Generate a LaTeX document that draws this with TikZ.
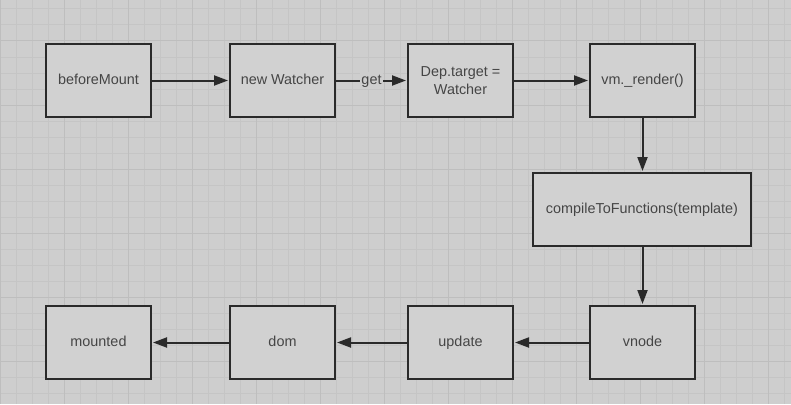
\documentclass[tikz,border=0pt]{standalone}
\usepackage{fontspec}
\setmainfont{Liberation Sans}
\usetikzlibrary{arrows.meta}
\definecolor{bgc}{HTML}{CECECE}
\definecolor{minorc}{HTML}{C5C5C5}
\definecolor{majorc}{HTML}{BEBEBE}
\definecolor{boxfill}{HTML}{D1D1D1}
\definecolor{edgec}{HTML}{2A2A2A}
\definecolor{txtc}{HTML}{454545}
\begin{document}
\begin{tikzpicture}[x=1pt,y=-1pt,
  stepbox/.style={draw=edgec, line width=2pt, fill=boxfill, minimum width=105pt, minimum height=73pt,
    inner sep=2pt, text=txtc, font=\fontsize{14.4}{17.5}\selectfont, align=center},
  oneline/.style={text height=10.5pt, text depth=3pt},
  flow/.style={draw=edgec, line width=2pt, -{Triangle[length=14pt,width=10pt]}, shorten >=1pt},
  lbl/.style={fill=bgc, inner sep=1.5pt, text=txtc, font=\fontsize{14.4}{17.5}\selectfont}
]
\useasboundingbox (0,0) rectangle (791,404);
\fill[bgc] (0,0) rectangle (791,404);
% minor grid
\foreach \i in {0,...,49} {\draw[minorc, line width=1pt] (\i*16,0) -- (\i*16,404);}
\foreach \j in {0,...,25} {\draw[minorc, line width=1pt] (0,9+\j*16) -- (791,9+\j*16);}
% major grid
\foreach \i in {0,...,12} {\draw[majorc, line width=1pt] (\i*64,0) -- (\i*64,404);}
\foreach \j in {0,...,6} {\draw[majorc, line width=1pt] (0,41-64+\j*64) -- (791,41-64+\j*64);}

\node[stepbox, oneline] (bm) at (98.5,80.5) {beforeMount};
\node[stepbox, oneline] (nw) at (282.5,80.5) {new Watcher};
\node[stepbox] (dt) at (460.5,80.5) {Dep.target =\\Watcher};
\node[stepbox, oneline] (vr) at (642.5,80.5) {vm.\_render()};
\node[stepbox, oneline, minimum width=218pt] (ctf) at (642,209.5) {compileToFunctions(template)};
\node[stepbox, oneline] (vn) at (642.5,342.5) {vnode};
\node[stepbox, oneline] (up) at (460.5,342.5) {update};
\node[stepbox, oneline] (dm) at (282.5,342.5) {dom};
\node[stepbox, oneline] (mt) at (98.5,342.5) {mounted};

\draw[flow] (bm) -- (nw);
\draw[flow] (nw) -- node[lbl, oneline] {get} (dt);
\draw[flow] (dt) -- (vr);
\draw[flow] (vr) -- (vr |- ctf.north);
\draw[flow] (ctf.south -| vn) -- (vn);
\draw[flow] (vn) -- (up);
\draw[flow] (up) -- (dm);
\draw[flow] (dm) -- (mt);
\end{tikzpicture}
\end{document}
